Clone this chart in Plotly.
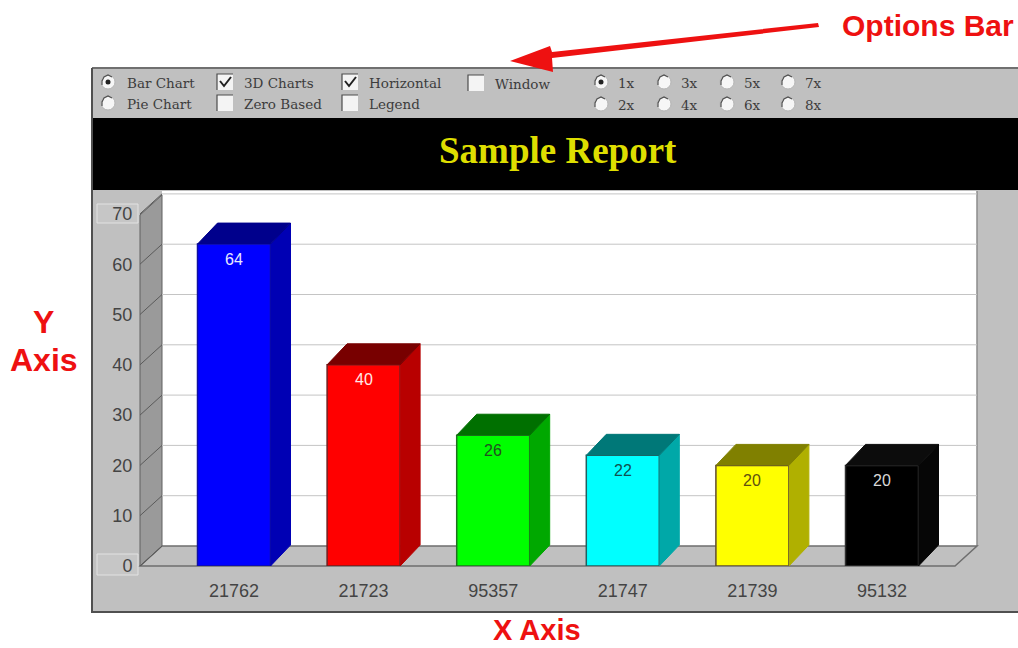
import plotly.graph_objects as go

# ---- data ----
categories = ["21762", "21723", "95357", "21747", "21739", "95132"]
values = [64, 40, 26, 22, 20, 20]
y_ticks = [0, 10, 20, 30, 40, 50, 60, 70]
front_colors = ["#0000ff", "#ff0000", "#00ff00", "#00ffff", "#ffff00", "#000000"]
side_colors = ["#0000b4", "#b80000", "#00a800", "#00a8a8", "#b0b000", "#060606"]
top_colors = ["#00008c", "#780000", "#007000", "#007878", "#808000", "#0c0c0c"]
edge_colors = ["#1010a0", "#702020", "#207020", "#206060", "#604c30", "#303030"]
label_colors = ["#e8e8ff", "#ffe8e8", "#205020", "#105050", "#605010", "#d8d8d8"]
title = "Sample Report"
radio_groups = [("Bar Chart", 108, 82, True), ("Pie Chart", 108, 103, False),
                ("1x", 601, 82, True), ("2x", 601, 104, False), ("3x", 664, 82, False), ("4x", 664, 104, False),
                ("5x", 727, 82, False), ("6x", 727, 104, False), ("7x", 788, 82, False), ("8x", 788, 104, False)]
checks = [("3D Charts", 217, 74, True), ("Zero Based", 217, 95, False), ("Horizontal", 342, 74, True),
          ("Legend", 342, 95, False), ("Window", 468, 75, False)]

# ---- page geometry ----
W, H = 1018, 648
L, B0 = 140, 566            # pixel position of the axes' origin
CAT_PX, VAL_PX = 129.6, 5.03
FIRST_PX = 234
BAR_DX, BAR_DY = 20 / CAT_PX, 21 / VAL_PX
WALL_DX, WALL_DY = 22 / CAT_PX, 20 / VAL_PX
BAR_W = 73 / CAT_PX
x_min = (L - FIRST_PX) / CAT_PX
x_max = (W - FIRST_PX) / CAT_PX
y_max = B0 / VAL_PX
xs = list(range(len(categories)))


def px(x):
    return (x - L) / (W - L)


def py(y):
    return (B0 - y) / B0


def rect(x0, y0, x1, y1, fill, line=None, lw=1):
    return dict(type="rect", xref="paper", yref="paper", x0=px(x0), x1=px(x1), y0=py(y0), y1=py(y1),
                fillcolor=fill, line=dict(color=line or "rgba(0,0,0,0)", width=lw if line else 0), layer="below")


def path(pts, fill="rgba(0,0,0,0)", line=None, lw=1, close=True):
    coords = [(px(a), py(b)) for a, b in pts]
    d = f"M{coords[0][0]},{coords[0][1]} " + " ".join(f"L{a},{b}" for a, b in coords[1:])
    if close:
        d += " Z"
    return dict(type="path", xref="paper", yref="paper", path=d, fillcolor=fill,
                line=dict(color=line or "rgba(0,0,0,0)", width=lw if line else 0), layer="below")


shapes, annos = [], []


def label(text, x, y, size, color, family="DejaVu Serif", anchor="left", bold=False):
    annos.append(dict(xref="paper", yref="paper", x=px(x), y=py(y), xanchor=anchor, yanchor="middle",
                      text=f"<b>{text}</b>" if bold else text, showarrow=False,
                      font=dict(size=size, color=color, family=family)))


# panel and title band
shapes.append(rect(92, 68, W + 5, 612, "#c0c0c0"))
shapes.append(path([(92, 68), (W, 68)], line="#707070", lw=2, close=False))
shapes.append(path([(92, 68), (92, 612), (W, 612)], line="#505050", lw=2, close=False))
shapes.append(rect(93, 118, W + 5, 190, "#000000"))
label(title, 558, 150, 37, "#dede00", "Liberation Serif", anchor="center", bold=True)

# back wall, right wall, floor, left wall
shapes.append(rect(162, 191, 977, 546, "#ffffff"))
shapes.append(path([(977, 191), (977, 546)], line="#8c8c8c", lw=1.5, close=False))
shapes.append(path([(140, 566), (162, 546), (977, 546), (955, 566)], fill="#c0c0c0"))
shapes.append(path([(162, 546), (977, 546), (955, 566), (140, 566)], line="#6e6e6e", lw=1.5))
shapes.append(path([(140, 566), (162, 546), (162, 195), (140, 215)], fill="#9a9a9a", line="#606060", lw=1))

# value grid, drawn from the axis ticks
for v in y_ticks[1:]:
    shapes.append(dict(type="line", xref="paper", yref="y", x0=px(162), x1=px(977),
                       y0=v + WALL_DY, y1=v + WALL_DY, line=dict(color="#c4c4c4", width=1), layer="below"))
for v in y_ticks:
    shapes.append(dict(type="line", xref="x", yref="y", x0=x_min, x1=x_min + WALL_DX,
                       y0=v, y1=v + WALL_DY, line=dict(color="#5a5a5a", width=1), layer="below"))

# end-of-axis tick boxes
shapes.append(rect(97, 204, 138, 223, "#c6c6c6", "#e2e2e2", 1))
shapes.append(rect(97, 554, 138, 575, "#c6c6c6", "#e2e2e2", 1))

# option controls
for text, x, y, on in radio_groups:
    r = 7
    shapes.append(dict(type="circle", xref="paper", yref="paper", x0=px(x - r), x1=px(x + r), y0=py(y - r), y1=py(y + r),
                       fillcolor="#f6f6f6", line=dict(color="#b4b4b4", width=1), layer="below"))
    shapes.append(path([(x - 6, y + 3), (x - 6, y - 1), (x - 4, y - 5), (x, y - 7), (x + 4, y - 5)],
                       line="#505050", lw=1.2, close=False))
    if on:
        shapes.append(dict(type="circle", xref="paper", yref="paper", x0=px(x - 2.5), x1=px(x + 2.5),
                           y0=py(y - 2.5), y1=py(y + 2.5), fillcolor="#222222", line=dict(width=0), layer="below"))
    label(text, x + 17 if len(text) > 2 else x + 15, y + 1, 13.5, "#3c3c3c")
for text, x, y, on in checks:
    shapes.append(rect(x, y, x + 16, y + 16, "#f4f4f4"))
    shapes.append(path([(x, y + 16), (x, y), (x + 16, y)], line="#4c4c4c", lw=1.2, close=False))
    if on:
        shapes.append(path([(x + 3, y + 7), (x + 7, y + 12), (x + 14, y + 3)], line="#202020", lw=2, close=False))
    label(text, x + 25, y + 9, 13.5, "#3c3c3c")

# red callouts
label("Options Bar", 840, 26, 30, "#ee1111", "Liberation Sans", bold=True)
label("Y", 43, 322, 32, "#ee1111", "Liberation Sans", "center", True)
label("Axis", 44, 360, 32, "#ee1111", "Liberation Sans", "center", True)
label("X Axis", 537, 630, 29, "#ee1111", "Liberation Sans", "center", True)
shapes.append(path([(818, 23), (552, 52), (550, 46), (510, 61), (553, 72), (552, 58), (819, 27)], fill="#ee1111"))
shapes[-1]["layer"] = "above"

# ---- marks ----
fig = go.Figure()
fig.add_trace(go.Bar(x=xs, y=values, width=BAR_W, marker=dict(color=front_colors, line=dict(color=edge_colors, width=1.5)),
                     showlegend=False, hoverinfo="skip"))
for i, v in enumerate(values):
    left, right = i - BAR_W / 2, i + BAR_W / 2
    fig.add_trace(go.Scatter(x=[right, right + BAR_DX, right + BAR_DX, right], y=[0, BAR_DY, v + BAR_DY, v],
                             fill="toself", fillcolor=side_colors[i], mode="lines", line=dict(color=side_colors[i], width=1),
                             showlegend=False, hoverinfo="skip", cliponaxis=False))
    fig.add_trace(go.Scatter(x=[left, left + BAR_DX, right + BAR_DX, right], y=[v, v + BAR_DY, v + BAR_DY, v],
                             fill="toself", fillcolor=top_colors[i], mode="lines", line=dict(color=top_colors[i], width=1),
                             showlegend=False, hoverinfo="skip", cliponaxis=False))
    annos.append(dict(x=i, y=v, xref="x", yref="y", yshift=-15, yanchor="middle", text=str(v), showarrow=False,
                      font=dict(size=16, color=label_colors[i], family="Liberation Sans")))

fig.update_layout(
    width=W, height=H, autosize=False, showlegend=False,
    margin=dict(l=L, r=0, t=0, b=H - B0),
    paper_bgcolor="#ffffff", plot_bgcolor="rgba(0,0,0,0)",
    shapes=shapes, annotations=annos,
    xaxis=dict(range=[x_min, x_max], tickmode="array", tickvals=xs, ticktext=categories, showgrid=False, zeroline=False,
               showline=False, ticks="outside", ticklen=8, tickcolor="rgba(0,0,0,0)",
               tickfont=dict(family="Liberation Sans", size=18, color="#444444")),
    yaxis=dict(range=[0, y_max], tickmode="array", tickvals=y_ticks, showgrid=False, zeroline=False, showline=False,
               ticks="outside", ticklen=3, tickcolor="rgba(0,0,0,0)",
               tickfont=dict(family="Liberation Sans", size=18, color="#444444")),
)
fig.write_html("out.html", config=dict(displayModeBar=False),
               post_script="document.body.style.margin='0';document.body.style.overflow='hidden';")
